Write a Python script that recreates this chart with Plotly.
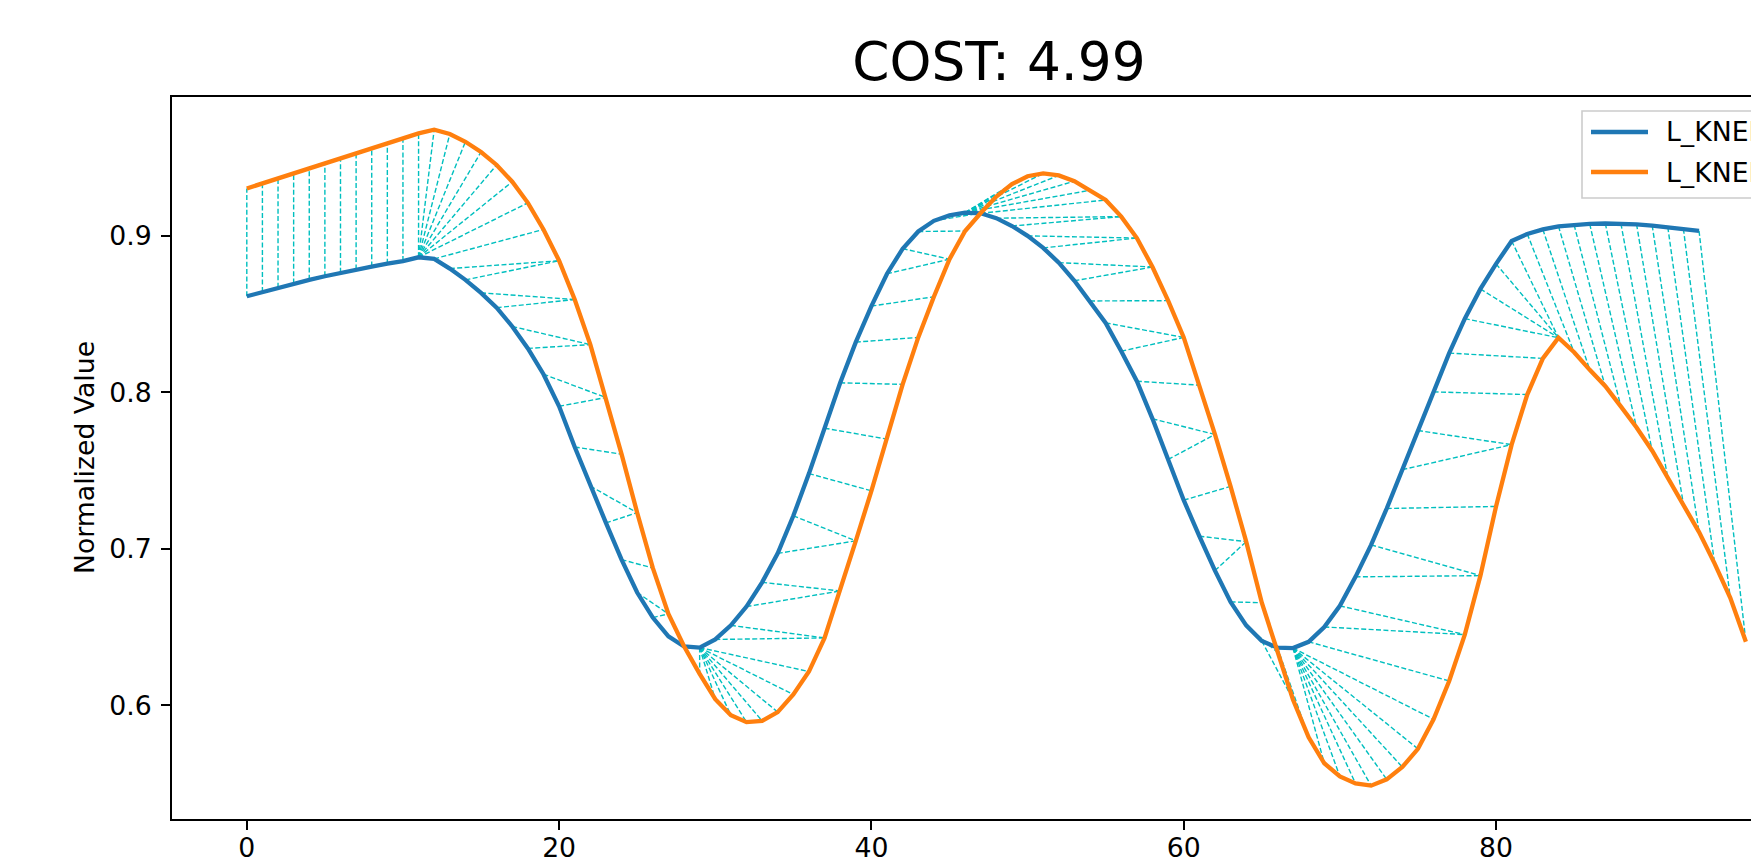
import plotly.graph_objects as go

# ---------------- data ----------------
blue = [
    0.8613, 0.8641, 0.8668, 0.8694, 0.8718, 0.8741, 0.8763, 0.8784, 0.8803, 0.8821,
    0.8838, 0.8862, 0.8852, 0.8790, 0.8718, 0.8635, 0.8540, 0.8420, 0.8280, 0.8115,
    0.7910, 0.7650, 0.7400, 0.7165, 0.6930, 0.6720, 0.6560, 0.6440, 0.6375, 0.6368,
    0.6420, 0.6510, 0.6630, 0.6785, 0.6970, 0.7210, 0.7480, 0.7770, 0.8060, 0.8320,
    0.8550, 0.8757, 0.8917, 0.9027, 0.9095, 0.9130, 0.9148, 0.9143, 0.9112, 0.9062,
    0.8999, 0.8922, 0.8828, 0.8712, 0.8583, 0.8443, 0.8262, 0.8070, 0.7830, 0.7570,
    0.7310, 0.7080, 0.6860, 0.6660, 0.6510, 0.6410, 0.6368, 0.6365, 0.6405, 0.6500,
    0.6635, 0.6820, 0.7024, 0.7257, 0.7505, 0.7755, 0.8002, 0.8250, 0.8470, 0.8660,
    0.8820, 0.8966, 0.9011, 0.9040, 0.9060, 0.9069, 0.9075, 0.9078, 0.9076, 0.9073,
    0.9065, 0.9055, 0.9044, 0.9031,
]
orange = [
    0.9302, 0.9334, 0.9366, 0.9398, 0.9430, 0.9462, 0.9494, 0.9526, 0.9558, 0.9590,
    0.9622, 0.9654, 0.9678, 0.9650, 0.9600, 0.9535, 0.9452, 0.9345, 0.9210, 0.9040,
    0.8840, 0.8592, 0.8304, 0.7966, 0.7604, 0.7230, 0.6877, 0.6583, 0.6377, 0.6200,
    0.6038, 0.5936, 0.5892, 0.5900, 0.5956, 0.6068, 0.6215, 0.6430, 0.6730, 0.7050,
    0.7370, 0.7700, 0.8050, 0.8350, 0.8610, 0.8850, 0.9030, 0.9145, 0.9250, 0.9330,
    0.9380, 0.9398, 0.9385, 0.9348, 0.9290, 0.9228, 0.9122, 0.8985, 0.8800, 0.8585,
    0.8350, 0.8045, 0.7730, 0.7398, 0.7045, 0.6655, 0.6338, 0.6035, 0.5795, 0.5629,
    0.5545, 0.5500, 0.5486, 0.5526, 0.5605, 0.5721, 0.5910, 0.6155, 0.6451, 0.6828,
    0.7270, 0.7665, 0.7985, 0.8216, 0.8348, 0.8255, 0.8143, 0.8038, 0.7908, 0.7774,
    0.7626, 0.7452, 0.7285, 0.7106, 0.6905, 0.6686, 0.6406,
]
blue_name = "L_KNEE_1"
orange_name = "L_KNEE_2"
title_text = "COST: 4.99"
y_label = "Normalized Value"
x_ticks = [0, 20, 40, 60, 80]
y_ticks = [0.6, 0.7, 0.8, 0.9]
y_tick_text = ["0.6", "0.7", "0.8", "0.9"]


# ---------------- DTW alignment between the two series ----------------
def dtw_path(a, b):
    n, m = len(a), len(b)
    inf = float("inf")
    D = [[inf] * (m + 1) for _ in range(n + 1)]
    D[0][0] = 0.0
    for i in range(1, n + 1):
        ai = a[i - 1]
        for j in range(1, m + 1):
            c = abs(ai - b[j - 1])
            D[i][j] = c + min(D[i - 1][j], D[i][j - 1], D[i - 1][j - 1])
    i, j = n, m
    path = [(i - 1, j - 1)]
    while i > 1 or j > 1:
        if i == 1:
            j -= 1
        elif j == 1:
            i -= 1
        else:
            opts = [(D[i - 1][j - 1], i - 1, j - 1),
                    (D[i - 1][j], i - 1, j),
                    (D[i][j - 1], i, j - 1)]
            _, i, j = min(opts, key=lambda t: t[0])
        path.append((i - 1, j - 1))
    return path[::-1]


path = dtw_path(blue, orange)
link_x, link_y = [], []
for i, j in path:
    link_x += [i, j, None]
    link_y += [blue[i], orange[j], None]

# ---------------- figure ----------------
# The page body has an 8px margin; layout numbers below are page pixels
# translated into figure pixels.
OFF = 8
W, H = 1751, 858
L, R, T = 172 - OFF, 0, 97 - OFF
B = H - (819 - OFF)
FONT = "DejaVu Sans"
FS = 26.7


def px_x(px):
    return (px - OFF - L) / (W - L - R)


def px_y(py):
    return (H - B - (py - OFF)) / (H - T - B)


fig = go.Figure()
fig.add_trace(go.Scatter(
    x=link_x, y=link_y, mode="lines", showlegend=False, hoverinfo="skip",
    line=dict(color="#00bfbf", width=1.4, dash="5px,2.4px"),
))
fig.add_trace(go.Scatter(
    x=list(range(len(blue))), y=blue, mode="lines", name=blue_name,
    showlegend=False, line=dict(color="#1f77b4", width=4.3),
))
fig.add_trace(go.Scatter(
    x=list(range(len(orange))), y=orange, mode="lines", name=orange_name,
    showlegend=False, line=dict(color="#ff7f0e", width=4.3),
))

axis_common = dict(
    showgrid=False, zeroline=False, showline=True, linecolor="black",
    linewidth=2, ticks="outside", ticklen=9, tickwidth=2, tickcolor="black",
    tickfont=dict(family=FONT, size=FS, color="black"),
)
fig.update_xaxes(range=[-4.79, 96.84], tickvals=x_ticks, mirror=True,
                 ticklabelstandoff=-5, **axis_common)
fig.update_yaxes(range=[0.52728, 0.98863], tickvals=y_ticks,
                 ticktext=y_tick_text, ticklabelstandoff=4, **axis_common)

shapes = [
    dict(type="rect", xref="paper", yref="paper",
         x0=px_x(1582), x1=px_x(1950), y0=px_y(198), y1=px_y(111),
         line=dict(color="#cccccc", width=1.6),
         fillcolor="rgba(255,255,255,0.8)", layer="above"),
    dict(type="line", xref="paper", yref="paper",
         x0=px_x(1591), x1=px_x(1648), y0=px_y(132), y1=px_y(132),
         line=dict(color="#1f77b4", width=4.3), layer="above"),
    dict(type="line", xref="paper", yref="paper",
         x0=px_x(1591), x1=px_x(1648), y0=px_y(172), y1=px_y(172),
         line=dict(color="#ff7f0e", width=4.3), layer="above"),
]
annotations = [
    dict(text=blue_name, xref="paper", yref="paper", x=px_x(1664), y=px_y(132),
         xanchor="left", yanchor="middle", showarrow=False,
         font=dict(family=FONT, size=FS, color="black")),
    dict(text=orange_name, xref="paper", yref="paper", x=px_x(1664), y=px_y(172),
         xanchor="left", yanchor="middle", showarrow=False,
         font=dict(family=FONT, size=FS, color="black")),
    dict(text=y_label, xref="paper", yref="paper", x=px_x(84), y=px_y(458),
         xanchor="center", yanchor="middle", textangle=-90, showarrow=False,
         font=dict(family=FONT, size=FS, color="black")),
]

fig.update_layout(
    width=W, height=H,
    margin=dict(l=L, r=R, t=T, b=B, autoexpand=False),
    paper_bgcolor="white", plot_bgcolor="white",
    title=dict(text=title_text, xref="container", yref="container",
               x=(999 - OFF) / W, y=1 - (61.7 - OFF) / H,
               xanchor="center", yanchor="middle",
               font=dict(family=FONT, size=53.3, color="black")),
    shapes=shapes, annotations=annotations, showlegend=False,
)

fig.write_html("out.html", config={"displayModeBar": False})
